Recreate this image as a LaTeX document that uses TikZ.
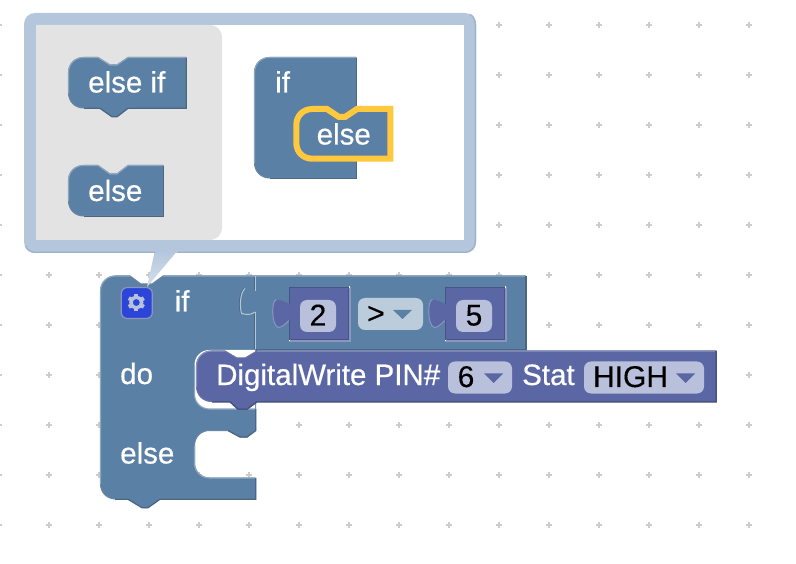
\documentclass[tikz,border=0pt]{standalone}
\usepackage{fontspec}
\setmainfont{Liberation Sans}
\newfontfamily\wfont[FakeBold=0.55]{Liberation Sans}
\newfontfamily\bfont[FakeBold=0.2]{Liberation Sans}
\definecolor{bluem}{HTML}{5B80A5}
\definecolor{bluel}{HTML}{8CA6C0}
\definecolor{blued}{HTML}{496684}
\definecolor{purm}{HTML}{5B67A5}
\definecolor{purl}{HTML}{8C95C0}
\definecolor{purd}{HTML}{495284}
\definecolor{bubble}{HTML}{B3C6DC}
\definecolor{bubbled}{HTML}{9DB2CC}
\definecolor{fly}{HTML}{E3E3E3}
\definecolor{hl}{HTML}{FFC83D}
\definecolor{fieldp}{HTML}{B9C0DB}
\definecolor{fieldb}{HTML}{BDCCDB}
\definecolor{gridc}{HTML}{CCCCCC}
\definecolor{gearb}{HTML}{2A45D8}
\tikzset{
  x=1pt,y=-1pt,
  blockb/.style={fill=bluem,draw=blued!50!bluel,line width=1pt,line join=round},
  blockp/.style={fill=purm,draw=purd!50!purl,line width=1pt,line join=round},
  edgebl/.style={draw=bluel,line width=1.1pt},
  edgebd/.style={draw=blued,line width=1.3pt},
  edgepl/.style={draw=purl,line width=1.1pt},
  edgepd/.style={draw=purd,line width=1.5pt},
  wlabel/.style={text=white,font=\wfont\fontsize{29.5}{30}\selectfont,inner sep=0pt,anchor=base west},
  blabel/.style={text=black,font=\bfont\fontsize{30}{31}\selectfont,inner sep=0pt,anchor=base},
  fieldp box/.style={fill=fieldp,rounded corners=7pt,inner sep=0pt,minimum height=32pt},
  fieldb box/.style={fill=fieldb,rounded corners=7pt,inner sep=0pt,minimum height=32pt},
  gridmark/.style={draw=gridc,line width=1.3pt}
}
\newcommand{\valblk}[1]{% #1 = left x, tab and frame of a value block drawn by shift
  \begin{scope}[shift={(#1,0)}]
    \fill[purm] (0,287.5) -- (60,287.5) -- (60,340.5) -- (0,340.5) -- (0,320)
      .. controls (-4,324) and (-8,327.5) .. (-11,327.5)
      .. controls (-15,327) and (-16.8,318) .. (-16.8,312)
      .. controls (-16.8,306) and (-16,300) .. (-13,299.5)
      .. controls (-9,299.5) and (-4,302) .. (0,304) -- cycle;
    \draw[purl,line width=1pt] (0,320) .. controls (-4,324) and (-8,327.5) .. (-11,327.5)
      .. controls (-15,327) and (-16.8,318) .. (-16.8,312) .. controls (-16.8,306) and (-16,300) .. (-13,299.5);
    \draw[purd,line width=1.2pt] (0,304) -- (0,287.5) -- (60,287.5);
    \draw[purd,line width=1.2pt] (0,340.5) -- (0,320);
    \draw[purl,line width=1.4pt] (60.5,287) -- (60.5,341) -- (-0.5,341);
    \draw[purd,line width=1pt] (59,289) -- (59,339.5) -- (1,339.5);
    \fill[white] (-0.7,340) rectangle (0.7,341.5);
    \fill[white] (59.3,286.5) rectangle (60.5,288);
  \end{scope}}
\begin{document}
\begin{tikzpicture}
\useasboundingbox (0,0) rectangle (796,564);
\fill[white] (0,0) rectangle (796,564);
% grid
\foreach \gx in {-1,49,99,...,749}{\foreach \gy in {25,75,...,525}{
  \draw[gridmark] (\gx-3,\gy)--(\gx+3,\gy) (\gx,\gy-3)--(\gx,\gy+3);
}}
% main if block
\draw[blockb] (115.5,276) -- (130,276) -- (141,284) -- (152,284) -- (163,276) -- (525.5,276) -- (525.5,349.5) -- (255.5,349.5) -- (255.5,430.5) -- (247,437) -- (240,437) -- (228,430.5) -- (209.5,430.5)
  .. controls (201,430.5) and (194.5,437) .. (194.5,445.5) -- (194.5,463)
  .. controls (194.5,471.5) and (201,478) .. (209.5,478) -- (255.5,478) -- (255.5,499) -- (160,499) -- (148,507.5) -- (142,507.5) -- (128,499) -- (115.5,499)
  .. controls (107,499) and (100.5,492.5) .. (100.5,484) -- (100.5,291)
  .. controls (100.5,282.5) and (107,276) .. (115.5,276) -- cycle;
\draw[edgebl] (100.5,484) -- (100.5,291) .. controls (100.5,282.5) and (107,276) .. (115.5,276) -- (130,276) (163,276) -- (525,276);
\draw[edgebd] (526,276) -- (526,350) -- (256,350);
\draw[edgebd] (255.8,409) -- (255.8,430.5) -- (247,437) -- (240,437) -- (228,430.5);
\draw[edgebd] (255.8,478) -- (255.8,499.2) -- (160,499.2) -- (148,507.7) -- (142,507.7) -- (128,499.2) -- (115,499.2);
% do socket
\fill[white] (209.5,350) -- (255,350) -- (255,409) -- (209.5,409) .. controls (201,409) and (194.5,402.5) .. (194.5,394) -- (194.5,365) .. controls (194.5,356.5) and (201,350) .. (209.5,350) -- cycle;
\draw[edgebl] (194.5,366) -- (194.5,394) .. controls (194.5,402.5) and (201,409) .. (209.5,409) -- (255,409);
\draw[edgebl] (194.5,445.5) -- (194.5,463) .. controls (194.5,471.5) and (201,478) .. (209.5,478) -- (255,478);
% input seam
\draw[blued,line width=0.8pt] (254,277) -- (254,290);
\draw[blued,line width=0.8pt] (254,312) -- (254,349);
\draw[white!55!bluem,line width=1pt] (255.3,276.5) -- (255.3,291);
\draw[white!55!bluem,line width=1pt] (255.3,312) -- (255.3,349);
\draw[blued,line width=0.8pt] (244,288.5) .. controls (239,293) and (238.5,306) .. (240.5,314);
\draw[white!55!bluem,line width=1pt] (245,288.5) .. controls (240,293) and (239.5,306) .. (241.5,313.5) .. controls (246,314.5) and (250,315.5) .. (255.3,312);
% value block 2
\valblk{289.5}
\node[fieldp box,minimum width=36pt] (f2) at (318,316) {};
\node[blabel] (t2) at (318,325.5) {2};
% op dropdown
\node[fieldb box,minimum width=65pt] (fop) at (390.5,314) {};
\node[blabel] (top) at (376,323.5) {>};
\fill[bluem] (393,310) -- (412,310) -- (402.5,319) -- cycle;
% value block 5
\valblk{445.5}
\node[fieldp box,minimum width=36pt] (f5) at (474,316) {};
\node[blabel] (t5) at (474,325.5) {5};
% purple statement block
\draw[blockp] (211.5,351) -- (225,351) -- (237,358) -- (245,358) -- (257,351) -- (716,351) -- (716,401.5) -- (257,401.5) -- (247,409) -- (238,409) -- (230,401.5) -- (211.5,401.5)
  .. controls (203,401.5) and (196.5,395) .. (196.5,386.5) -- (196.5,366)
  .. controls (196.5,357.5) and (203,351) .. (211.5,351) -- cycle;
\draw[edgepl] (196.5,386.5) -- (196.5,366) .. controls (196.5,357.5) and (203,351) .. (211.5,351) -- (225,351) (257,351) -- (715,351);
\draw[edgepd] (716,351) -- (716,401.8) -- (257,401.8) -- (247,409.2) -- (238,409.2) -- (230,401.8) -- (212,401.8);
\node[wlabel] (tdw) at (216,385) {DigitalWrite PIN\#};
\node[fieldp box,minimum width=64pt] (f6) at (480,377.5) {};
\node[blabel] (t6) at (466,387) {6};
\fill[purm] (484,373.5) -- (503,373.5) -- (493.5,383) -- cycle;
\node[wlabel] (tst) at (522,385) {Stat};
\node[fieldp box,minimum width=120pt] (fh) at (644,377.5) {};
\node[blabel] (th) at (630.5,387) {HIGH};
\fill[purm] (676,373.5) -- (695,373.5) -- (685.5,383) -- cycle;
% labels main
\node[wlabel] (tif) at (174.5,311.5) {if};
\node[wlabel] (tdo) at (120,384) {do};
\node[wlabel] (tel) at (120,463.5) {else};
% bubble
\shade[top color=bubble,bottom color=bubble!55!white] (155,250) -- (178,250) -- (147,287) -- cycle;
\fill[bubble] (24,24) .. controls (24,18) and (29,13) .. (35,13) -- (465,13) .. controls (471,13) and (476,18) .. (476,24) -- (476,242) .. controls (476,248) and (471,253) .. (465,253) -- (35,253) .. controls (29,253) and (24,248) .. (24,242) -- cycle;
\draw[bubbled,line width=1.4pt] (470,14.5) .. controls (473,15.5) and (475.3,20) .. (475.3,24) -- (475.3,242) .. controls (475.3,248) and (471,252.3) .. (465,252.3) -- (178,252.3);
\draw[bubbled,line width=1.4pt] (155,252.3) -- (35,252.3) .. controls (31,252.3) and (27,250) .. (25.5,246);
\fill[white] (36,25) rectangle (464,240);
\fill[fly] (36,25) -- (209,25) .. controls (217,25) and (222,30) .. (222,38) -- (222,227) .. controls (222,235) and (217,240) .. (209,240) -- (36,240) -- cycle;
% gear
\node[fill=gearb,draw=purl,line width=1.2pt,rounded corners=6pt,minimum width=31pt,minimum height=31pt,inner sep=0pt] (gear) at (136.8,303) {};
\begin{scope}[shift={(136.3,302.5)}]
  \foreach \ga in {30,90,150,210,270,330}{
    \draw[fieldp,line width=4pt] (0,0) ++(\ga:5.5) -- ++(\ga:3.2);
  }
  \draw[fieldp,line width=3.4pt] (0,0) circle[radius=5.4];
\end{scope}
% else if
\draw[blockb] (83.5,57.5) -- (98,57.5) -- (110,65) -- (117,65) -- (128,57.5) -- (186,57.5) -- (186,108) -- (128,108) -- (117,116.5) -- (112,116.5) -- (100,108) -- (83.5,108) .. controls (75,108) and (68.5,101.5) .. (68.5,93) -- (68.5,72.5) .. controls (68.5,64) and (75,57.5) .. (83.5,57.5) -- cycle;
\draw[edgebl] (68.5,93) -- (68.5,72.5) .. controls (68.5,64) and (75,57.5) .. (83.5,57.5) -- (98,57.5) -- (110,65) -- (117,65) -- (128,57.5) -- (185.5,57.5);
\draw[edgebd] (186.2,58) -- (186.2,108.3) -- (128,108.3) -- (117,116.7) -- (112,116.7) -- (100,108.3) -- (84,108.3);
\node[wlabel] (tei) at (88,92.5) {else if};
% else
\draw[blockb] (83.5,165.5) -- (98,165.5) -- (110,174) -- (117,174) -- (128,165.5) -- (163,165.5) -- (163,216) -- (83.5,216) .. controls (75,216) and (68.5,209.5) .. (68.5,201) -- (68.5,180.5) .. controls (68.5,172) and (75,165.5) .. (83.5,165.5) -- cycle;
\draw[edgebl] (68.5,201) -- (68.5,180.5) .. controls (68.5,172) and (75,165.5) .. (83.5,165.5) -- (98,165.5) -- (110,174) -- (117,174) -- (128,165.5) -- (162.5,165.5);
\draw[edgebd] (163.2,166) -- (163.2,216.3) -- (84,216.3);
\node[wlabel] (te2) at (88,201) {else};
% mutator if
\draw[blockb] (269.5,57.5) -- (356,57.5) -- (356,178) -- (269.5,178) .. controls (261,178) and (254.5,171.5) .. (254.5,163) -- (254.5,72.5) .. controls (254.5,64) and (261,57.5) .. (269.5,57.5) -- cycle;
\draw[edgebl] (254.5,163) -- (254.5,72.5) .. controls (254.5,64) and (261,57.5) .. (269.5,57.5) -- (355.5,57.5);
\draw[edgebd] (356.2,58) -- (356.2,178.3) -- (270,178.3);
\node[wlabel] (tmi) at (275,92.5) {if};
\draw[fill=bluem,draw=hl,line width=6pt,line join=miter] (312.3,109) -- (327,109) -- (339,117) -- (345,117) -- (357,109) -- (390.3,109) -- (390.3,158.7) -- (312.3,158.7) .. controls (303,158.7) and (296.3,152) .. (296.3,142.7) -- (296.3,125) .. controls (296.3,116) and (303,109) .. (312.3,109) -- cycle;
\node[wlabel] (tm2) at (316.5,144.5) {else};
\end{tikzpicture}
\end{document}
